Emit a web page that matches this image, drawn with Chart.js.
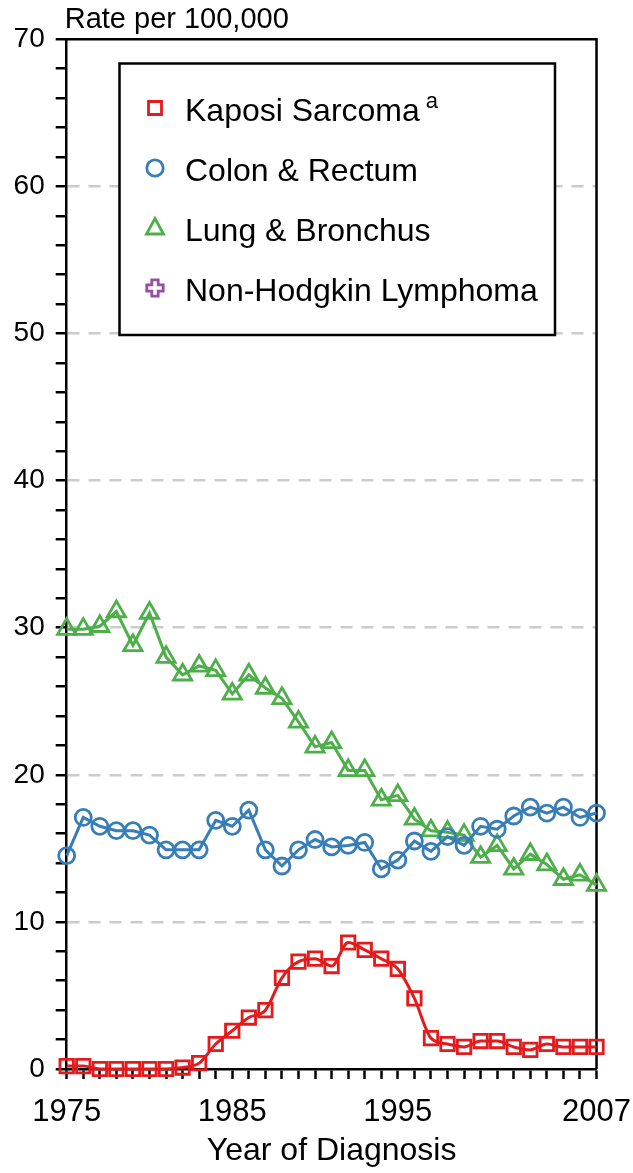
<!DOCTYPE html>
<html>
<head>
<meta charset="utf-8">
<title>Cancer incidence rates</title>
<script src="https://cdn.jsdelivr.net/npm/chart.js@4/dist/chart.umd.min.js"></script>
<style>
  html, body { margin: 0; padding: 0; background: #fff; }
  #wrap { width: 633px; height: 1173px; position: relative; }
</style>
</head>
<body>
<div id="wrap"><canvas id="chart"></canvas></div>
<script>
var years = ['1975', '1976', '1977', '1978', '1979', '1980', '1981', '1982', '1983', '1984',
  '1985', '1986', '1987', '1988', '1989', '1990', '1991', '1992', '1993', '1994',
  '1995', '1996', '1997', '1998', '1999', '2000', '2001', '2002', '2003', '2004',
  '2005', '2006', '2007'];
var yearLabels = ['1975', '1985', '1995', '2007'];

var kaposi = [0.2, 0.2, 0, 0, 0, 0, 0, 0.1, 0.4, 1.7, 2.6, 3.5, 4.0, 6.2, 7.3, 7.5, 7.0,
  8.6, 8.1, 7.5, 6.8, 4.8, 2.1, 1.7, 1.5, 1.9, 1.9, 1.5, 1.3, 1.7, 1.5, 1.5, 1.5];
var colon = [14.5, 17.1, 16.5, 16.2, 16.2, 15.9, 14.9, 14.9, 14.9, 16.9, 16.5, 17.6, 14.9,
  13.8, 14.9, 15.6, 15.1, 15.2, 15.4, 13.6, 14.2, 15.5, 14.8, 15.8, 15.2, 16.5, 16.3,
  17.2, 17.8, 17.4, 17.8, 17.1, 17.4];
var lung = [29.9, 29.9, 30.1, 31.1, 28.8, 31.0, 28.0, 26.8, 27.4, 27.1, 25.5, 26.8, 25.9,
  25.2, 23.6, 21.9, 22.2, 20.3, 20.3, 18.3, 18.6, 17.0, 16.2, 16.1, 15.9, 14.4, 15.2,
  13.6, 14.6, 13.9, 12.9, 13.2, 12.5];
var nhl = [];

var FONT = '"Liberation Sans", Arial, sans-serif';

function series(label, data, color, style, radius, extra) {
  var ds = {
    label: label,
    data: data,
    borderColor: color,
    backgroundColor: color,
    borderWidth: 3,
    pointStyle: style,
    pointRadius: radius,
    pointBorderWidth: 2.8,
    pointBorderColor: color,
    pointBackgroundColor: 'rgba(0,0,0,0)',
    tension: 0,
    clip: false,
    marker: style
  };
  for (var k in extra) ds[k] = extra[k];
  return ds;
}

// outlined marker for the legend
function drawMarker(ctx, style, x, y, color) {
  ctx.save();
  ctx.strokeStyle = color;
  ctx.lineWidth = 2.8;
  ctx.beginPath();
  if (style === 'rect') {
    ctx.rect(x - 6.5, y - 6.5, 13, 13);
  } else if (style === 'circle') {
    ctx.arc(x, y, 8.2, 0, Math.PI * 2);
  } else if (style === 'triangle') {
    ctx.moveTo(x, y - 9.5);
    ctx.lineTo(x + 8.5, y + 6);
    ctx.lineTo(x - 8.5, y + 6);
    ctx.closePath();
  } else if (style === 'plus') {
    var a = 3.2, b = 8.2;
    ctx.moveTo(x - a, y - b); ctx.lineTo(x + a, y - b); ctx.lineTo(x + a, y - a);
    ctx.lineTo(x + b, y - a); ctx.lineTo(x + b, y + a); ctx.lineTo(x + a, y + a);
    ctx.lineTo(x + a, y + b); ctx.lineTo(x - a, y + b); ctx.lineTo(x - a, y + a);
    ctx.lineTo(x - b, y + a); ctx.lineTo(x - b, y - a); ctx.lineTo(x - a, y - a);
    ctx.closePath();
  }
  ctx.stroke();
  ctx.restore();
}

var framePlugin = {
  id: 'frame',
  beforeDatasetsDraw: function(chart) {
    var a = chart.chartArea, ctx = chart.ctx;
    ctx.save();
    ctx.strokeStyle = '#000';
    ctx.lineWidth = 2.5;
    ctx.beginPath();
    ctx.moveTo(a.left, a.top);
    ctx.lineTo(a.right, a.top);
    ctx.lineTo(a.right, a.bottom);
    ctx.stroke();
    ctx.restore();
  },
  afterDraw: function(chart) {
    var a = chart.chartArea, ctx = chart.ctx;
    ctx.save();
    // y axis title, horizontal above the axis
    ctx.fillStyle = '#000';
    ctx.font = '29px ' + FONT;
    ctx.textAlign = 'left';
    ctx.textBaseline = 'alphabetic';
    ctx.fillText('Rate per 100,000', a.left - 2, 28);

    // legend box
    var bx = 119.5, by = 63.5, bw = 435.5, bh = 271.5;
    ctx.fillStyle = '#fff';
    ctx.fillRect(bx, by, bw, bh);
    ctx.strokeStyle = '#000';
    ctx.lineWidth = 2.5;
    ctx.strokeRect(bx, by, bw, bh);

    chart.data.datasets.forEach(function(ds, i) {
      var ty = 112 + i * 60;
      drawMarker(ctx, ds.marker, 155, ty - 4, ds.borderColor);
      ctx.fillStyle = '#000';
      ctx.font = '32px ' + FONT;
      ctx.textAlign = 'left';
      ctx.textBaseline = 'middle';
      ctx.fillText(ds.label, 185, ty);
      if (ds.note) {
        var w = ctx.measureText(ds.label).width;
        ctx.font = '22px ' + FONT;
        ctx.textBaseline = 'alphabetic';
        ctx.fillText(ds.note, 185 + w + 6, ty - 4);
      }
    });
    ctx.restore();
  }
};

new Chart(document.getElementById('chart'), {
  type: 'line',
  data: {
    labels: years,
    datasets: [
      series('Kaposi Sarcoma', kaposi, '#e41a1c', 'rect', 9.5, { note: 'a', cubicInterpolationMode: 'monotone' }),
      series('Colon & Rectum', colon, '#377eb8', 'circle', 8, {}),
      series('Lung & Bronchus', lung, '#4daf4a', 'triangle', 10.5, {}),
      series('Non-Hodgkin Lymphoma', nhl, '#984ea3', 'cross', 8, { marker: 'plus' })
    ]
  },
  options: {
    responsive: true,
    maintainAspectRatio: false,
    animation: false,
    layout: { padding: { top: 39.3, right: 36.3, left: 0, bottom: 0 } },
    plugins: {
      legend: { display: false },
      tooltip: { enabled: false }
    },
    scales: {
      x: {
        type: 'category',
        afterFit: function(s) { s.height = 104; },
        grid: {
          drawOnChartArea: false,
          tickLength: 10,
          tickWidth: 2.5,
          tickColor: '#000'
        },
        border: { display: true, color: '#000', width: 2.5 },
        ticks: {
          autoSkip: false,
          maxRotation: 0,
          minRotation: 0,
          padding: 2,
          color: '#000',
          font: { family: FONT, size: 31, lineHeight: 2.0 },
          callback: function(v, i) {
            var y = this.getLabelForValue(v);
            return yearLabels.indexOf(y) >= 0 ? y : '';
          }
        },
        title: {
          display: true,
          text: 'Year of Diagnosis',
          color: '#000',
          font: { family: FONT, size: 32, lineHeight: 1.2 },
          padding: { top: 0, bottom: 3 }
        }
      },
      y: {
        min: 0,
        max: 70,
        afterFit: function(s) { s.width = 66.7; },
        grid: {
          lineWidth: 2.5,
          color: function(c) {
            var v = c.tick ? c.tick.value : 0;
            return (v % 10 === 0 && v > 0 && v < 70) ? '#cccccc' : 'rgba(0,0,0,0)';
          },
          tickLength: 11,
          tickWidth: 2.5,
          tickColor: '#000'
        },
        border: { display: true, color: '#000', width: 2.5, dash: [12, 9] },
        ticks: {
          stepSize: 2,
          autoSkip: false,
          padding: 11,
          color: '#000',
          font: { family: FONT, size: 28 },
          callback: function(v) { return v % 10 === 0 ? v : ''; }
        }
      }
    }
  },
  plugins: [framePlugin]
});
</script>
</body>
</html>
